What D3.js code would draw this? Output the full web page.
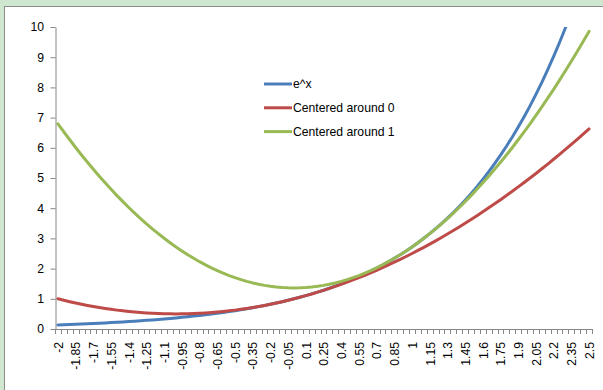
<!DOCTYPE html>
<html>
<head>
<meta charset="utf-8">
<script src="https://cdn.jsdelivr.net/npm/d3@7"></script>
<style>
  html, body { margin: 0; padding: 0; background: #cfe6cf; }
  svg { display: block; }
  text { font-family: "Liberation Sans", Arial, sans-serif; fill: #000; }
</style>
</head>
<body>
<svg id="chart" width="603" height="390"></svg>
<script>
// x values, -2 to 2.5 in steps of 0.05
const categories = [
  "-2","-1.95","-1.9","-1.85","-1.8","-1.75","-1.7","-1.65","-1.6","-1.55",
  "-1.5","-1.45","-1.4","-1.35","-1.3","-1.25","-1.2","-1.15","-1.1","-1.05",
  "-1","-0.95","-0.9","-0.85","-0.8","-0.75","-0.7","-0.65","-0.6","-0.55",
  "-0.5","-0.45","-0.4","-0.35","-0.3","-0.25","-0.2","-0.15","-0.1","-0.05",
  "0","0.05","0.1","0.15","0.2","0.25","0.3","0.35","0.4","0.45",
  "0.5","0.55","0.6","0.65","0.7","0.75","0.8","0.85","0.9","0.95",
  "1","1.05","1.1","1.15","1.2","1.25","1.3","1.35","1.4","1.45",
  "1.5","1.55","1.6","1.65","1.7","1.75","1.8","1.85","1.9","1.95",
  "2","2.05","2.1","2.15","2.2","2.25","2.3","2.35","2.4","2.45","2.5"
];

// e^x
const expValues = [
  0.135,0.142,0.150,0.157,0.165,0.174,0.183,0.192,0.202,0.212,
  0.223,0.235,0.247,0.259,0.273,0.287,0.301,0.317,0.333,0.350,
  0.368,0.387,0.407,0.427,0.449,0.472,0.497,0.522,0.549,0.577,
  0.607,0.638,0.670,0.705,0.741,0.779,0.819,0.861,0.905,0.951,
  1.000,1.051,1.105,1.162,1.221,1.284,1.350,1.419,1.492,1.568,
  1.649,1.733,1.822,1.916,2.014,2.117,2.226,2.340,2.460,2.586,
  2.718,2.858,3.004,3.158,3.320,3.490,3.669,3.857,4.055,4.263,
  4.482,4.711,4.953,5.207,5.474,5.755,6.050,6.360,6.686,7.029,
  7.389,7.768,8.166,8.585,9.025,9.488,9.974,10.486,11.023,11.588,12.182
];

// Taylor polynomial of degree 2 centered around 0
const center0Values = [
  1.000,0.951,0.905,0.861,0.820,0.781,0.745,0.711,0.680,0.651,
  0.625,0.601,0.580,0.561,0.545,0.531,0.520,0.511,0.505,0.501,
  0.500,0.501,0.505,0.511,0.520,0.531,0.545,0.561,0.580,0.601,
  0.625,0.651,0.680,0.711,0.745,0.781,0.820,0.861,0.905,0.951,
  1.000,1.051,1.105,1.161,1.220,1.281,1.345,1.411,1.480,1.551,
  1.625,1.701,1.780,1.861,1.945,2.031,2.120,2.211,2.305,2.401,
  2.500,2.601,2.705,2.811,2.920,3.031,3.145,3.261,3.380,3.501,
  3.625,3.751,3.880,4.011,4.145,4.281,4.420,4.561,4.705,4.851,
  5.000,5.151,5.305,5.461,5.620,5.781,5.945,6.111,6.280,6.451,6.625
];

// Taylor polynomial of degree 2 centered around 1
const center1Values = [
  6.796,6.527,6.266,6.011,5.763,5.522,5.287,5.059,4.839,4.625,
  4.417,4.217,4.023,3.836,3.656,3.483,3.316,3.157,3.004,2.858,
  2.718,2.586,2.460,2.341,2.229,2.124,2.025,1.933,1.848,1.770,
  1.699,1.634,1.577,1.526,1.482,1.444,1.414,1.390,1.373,1.363,
  1.359,1.363,1.373,1.390,1.414,1.444,1.482,1.526,1.577,1.634,
  1.699,1.770,1.848,1.933,2.025,2.124,2.229,2.341,2.460,2.586,
  2.718,2.858,3.004,3.157,3.316,3.483,3.656,3.836,4.023,4.217,
  4.417,4.625,4.839,5.059,5.287,5.522,5.763,6.011,6.266,6.527,
  6.796,7.071,7.353,7.642,7.937,8.240,8.549,8.865,9.188,9.517,9.854
];

const yTicks = [0,1,2,3,4,5,6,7,8,9,10];
// every third category gets a label
const xTickLabels = categories.filter((d, i) => i % 3 === 0);

const series = [
  { name: "e^x", values: expValues, color: "#4a7ebb" },
  { name: "Centered around 0", values: center0Values, color: "#be4b48" },
  { name: "Centered around 1", values: center1Values, color: "#98b954" }
];

const svg = d3.select("#chart");
const axisColor = "#868686";
const fontSize = "12.2px";

// chart area
svg.append("rect")
  .attr("x", 4.5).attr("y", 6.5)
  .attr("width", 620).attr("height", 400)
  .attr("fill", "#fff")
  .attr("stroke", "#8c8c8c")
  .attr("stroke-width", 1);

const plot = { left: 55, right: 592, top: 27, bottom: 329 };

const x = d3.scaleBand().domain(categories).range([plot.left, plot.right]).padding(0);
const y = d3.scaleLinear().domain([0, 10]).range([plot.bottom, plot.top]);
const cx = c => x(c) + x.bandwidth() / 2;

svg.append("defs").append("clipPath").attr("id", "plotClip")
  .append("rect")
  .attr("x", plot.left).attr("y", plot.top)
  .attr("width", plot.right - plot.left + 10)
  .attr("height", plot.bottom - plot.top);

// y axis
const yAxis = svg.append("g")
  .attr("transform", `translate(${plot.left + 0.5},0)`)
  .call(d3.axisLeft(y).tickValues(yTicks).tickSize(5).tickSizeOuter(0).tickPadding(6.5));
yAxis.select(".domain").attr("stroke", axisColor);
yAxis.selectAll(".tick line").attr("stroke", axisColor);
yAxis.selectAll(".tick text")
  .style("font-family", "'Liberation Sans', Arial, sans-serif")
  .style("font-size", fontSize).attr("fill", "#000");

// x axis line and a tick at every category boundary
const xg = svg.append("g");
xg.append("line")
  .attr("x1", plot.left).attr("x2", plot.right)
  .attr("y1", plot.bottom + 0.5).attr("y2", plot.bottom + 0.5)
  .attr("stroke", axisColor);
const boundaries = categories.map(c => x(c)).concat([x.range()[1]]);
xg.selectAll("line.tick").data(boundaries).join("line")
  .attr("class", "tick")
  .attr("x1", d => Math.round(d) + 0.5).attr("x2", d => Math.round(d) + 0.5)
  .attr("y1", plot.bottom).attr("y2", plot.bottom + 5)
  .attr("stroke", axisColor);
xg.selectAll("text").data(xTickLabels).join("text")
  .attr("transform", d => `translate(${cx(d) + 0.5},${plot.bottom + 13}) rotate(-90)`)
  .attr("text-anchor", "end")
  .attr("dy", "0.35em")
  .style("font-size", fontSize)
  .text(d => d);

// series lines
const line = d3.line()
  .x((v, i) => cx(categories[i]))
  .y(v => y(v));

svg.append("g").attr("clip-path", "url(#plotClip)")
  .selectAll("path").data(series).join("path")
  .attr("d", s => line(s.values))
  .attr("fill", "none")
  .attr("stroke", s => s.color)
  .attr("stroke-width", 3)
  .attr("stroke-linejoin", "round")
  .attr("stroke-linecap", "round");

// legend
const legend = svg.append("g").attr("transform", "translate(264,84)");
const rows = legend.selectAll("g").data(series).join("g")
  .attr("transform", (d, i) => `translate(0,${i * 23.8})`);
rows.append("line")
  .attr("x1", 0).attr("x2", 28)
  .attr("stroke", d => d.color).attr("stroke-width", 3);
rows.append("text")
  .attr("x", 29).attr("dy", "0.35em")
  .style("font-size", fontSize)
  .text(d => d.name);
</script>
</body>
</html>
